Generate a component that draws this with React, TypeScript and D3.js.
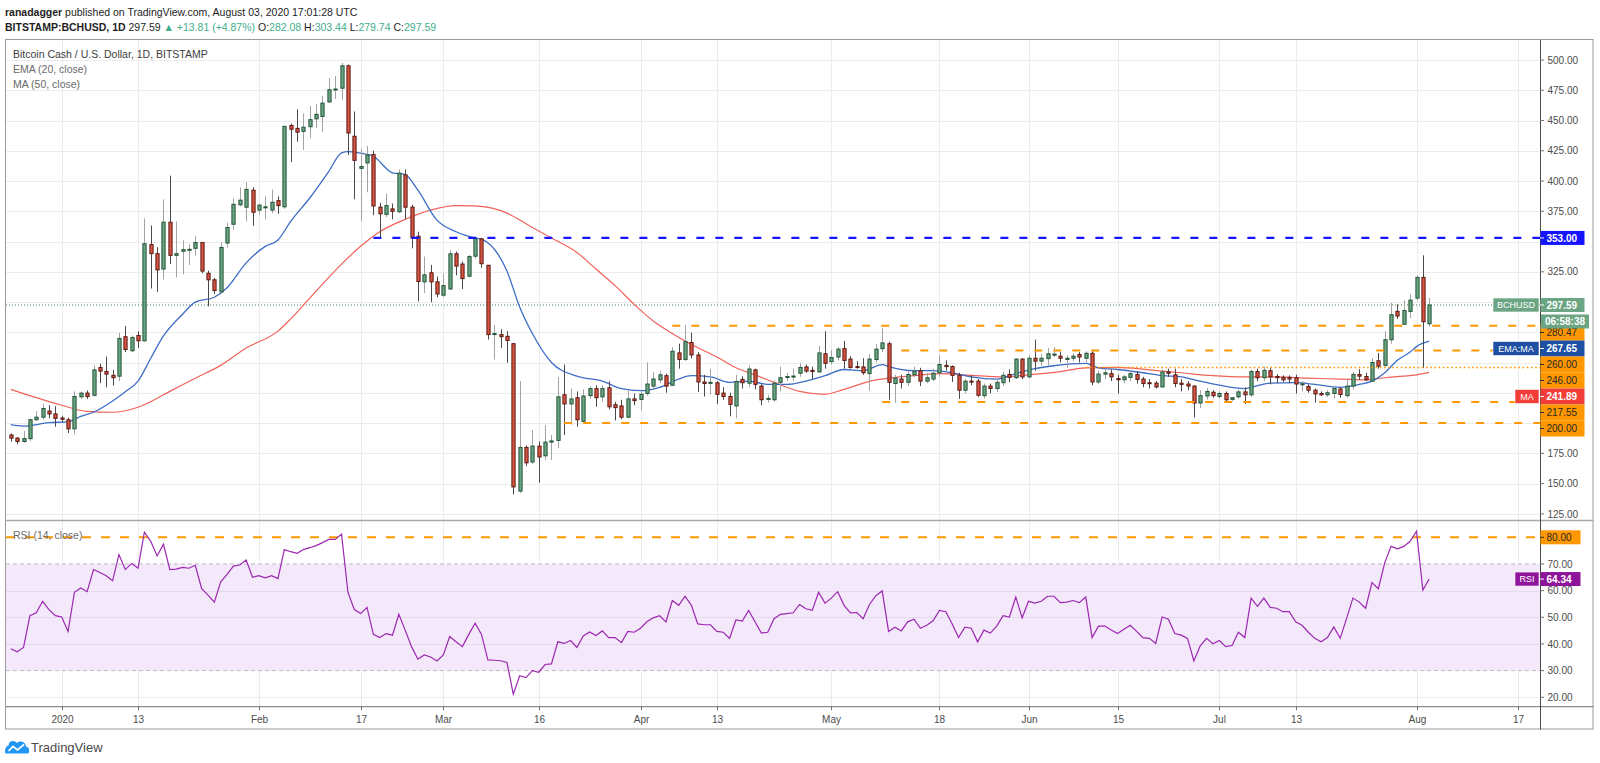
import React, { useEffect, useRef } from 'react';
import * as d3 from 'd3';

// one candle per day, starting here
const firstCandle = '2019-12-24';

// daily candles: open, high, low, close (BITSTAMP BCHUSD)
const ohlc: [number, number, number, number][] = [
  // Dec 24 - 31
  [190.2, 191.5, 184.7, 187.6], [187.6, 188.5, 182.6, 184.8], [184.8, 193.6, 184.0, 187.2], [187.2, 203.8, 185.0, 202.8],
  [202.8, 210.0, 202.0, 204.9], [204.9, 216.0, 203.0, 212.1], [210.0, 214.8, 204.0, 207.6], [207.6, 214.0, 197.0, 203.9],
  // Jan
  [204.2, 206.0, 201.0, 203.2], [202.8, 204.6, 191.9, 195.3], [195.3, 226.2, 190.8, 222.0], [221.7, 226.0, 220.0, 224.8],
  [224.8, 227.0, 220.0, 222.0], [223.0, 247.7, 222.0, 244.0], [246.0, 249.0, 233.0, 243.0], [242.6, 255.0, 229.6, 240.5],
  [239.5, 244.0, 231.0, 237.5], [238.8, 274.5, 234.7, 270.0], [271.4, 280.3, 258.7, 260.8], [259.8, 272.4, 258.7, 270.7],
  [272.4, 275.9, 262.1, 268.0], [268.0, 369.1, 267.3, 348.2], [347.5, 363.3, 311.2, 340.0], [340.0, 345.4, 308.4, 326.6],
  [327.3, 384.9, 318.7, 366.0], [366.0, 404.4, 331.4, 338.6], [338.6, 366.7, 320.4, 340.0], [342.0, 351.0, 322.8, 343.3],
  [343.4, 347.8, 330.7, 343.6], [344.4, 354.7, 338.2, 349.2], [349.2, 349.5, 323.8, 325.6], [323.8, 326.0, 296.4, 318.4],
  [318.4, 320.0, 306.7, 309.5], [308.4, 349.2, 307.4, 345.1], [348.8, 365.7, 345.0, 361.6], [364.3, 385.6, 359.8, 380.8],
  [380.4, 394.7, 379.0, 384.2], [378.4, 399.3, 366.7, 393.1], [392.4, 395.0, 363.0, 374.2],
  // Feb
  [376.0, 381.4, 371.8, 380.1], [378.4, 387.3, 368.4, 378.7], [376.0, 393.1, 373.5, 382.5], [383.8, 387.3, 372.9, 379.7],
  [378.7, 445.5, 377.0, 445.2], [445.9, 447.3, 415.7, 442.8], [443.5, 459.3, 432.5, 440.4], [441.0, 455.8, 425.7, 444.5],
  [444.9, 462.0, 435.3, 450.7], [451.4, 463.4, 443.8, 455.1], [453.4, 470.2, 440.4, 464.4], [465.4, 485.0, 464.4, 475.4],
  [475.4, 486.7, 467.8, 476.0], [476.7, 497.6, 467.1, 495.2], [495.2, 496.3, 421.5, 439.7], [437.0, 457.5, 384.9, 417.1],
  [410.5, 426.7, 366.7, 412.0], [415.0, 429.0, 390.7, 421.5], [421.9, 425.0, 371.8, 379.4], [378.4, 382.1, 353.0, 372.9],
  [372.5, 389.7, 370.1, 379.7], [377.0, 381.4, 368.4, 375.0], [374.6, 409.6, 373.5, 406.5], [405.1, 409.6, 368.4, 378.4],
  [378.4, 380.4, 344.4, 353.0], [354.4, 358.1, 300.5, 317.0], [316.7, 337.6, 307.4, 322.5], [324.2, 330.7, 299.9, 316.7],
  [316.7, 321.0, 304.0, 306.7],
  // Mar
  [305.7, 323.9, 304.0, 313.6], [310.8, 343.0, 310.1, 339.9], [339.9, 341.7, 322.1, 329.7], [331.4, 333.5, 310.8, 319.4],
  [321.4, 338.9, 320.4, 337.6], [337.9, 354.0, 335.8, 352.3], [352.3, 353.0, 328.3, 331.7], [330.4, 330.7, 269.0, 273.1],
  [273.5, 281.0, 252.5, 274.0], [273.1, 277.6, 262.1, 271.4], [271.7, 275.9, 249.8, 268.3], [265.6, 266.3, 141.1, 147.3],
  [143.9, 234.7, 142.2, 179.9], [179.9, 181.6, 164.5, 167.2], [167.9, 194.3, 166.2, 181.0], [181.0, 185.0, 150.7, 172.0],
  [173.0, 198.4, 169.6, 184.3], [184.3, 190.2, 169.6, 185.3], [185.7, 238.1, 179.2, 221.7], [223.4, 248.4, 190.2, 215.9],
  [215.9, 228.6, 198.7, 220.0], [221.0, 226.2, 197.0, 202.8], [201.5, 227.9, 200.4, 222.4], [222.7, 230.6, 220.0, 228.5],
  [228.5, 231.3, 213.5, 221.0], [221.7, 231.3, 217.6, 228.5], [229.2, 234.7, 211.4, 213.5], [215.2, 217.6, 202.2, 212.8],
  [214.2, 219.3, 203.2, 204.9], [204.9, 227.2, 203.9, 220.0], [220.0, 224.5, 214.8, 218.6],
  // Apr
  [219.6, 226.2, 210.7, 223.8], [224.5, 250.1, 222.7, 232.3], [230.6, 242.3, 227.9, 236.4], [235.8, 243.3, 233.0, 239.9],
  [239.2, 240.9, 225.1, 230.6], [231.3, 262.8, 230.6, 259.4], [258.0, 265.6, 245.0, 252.6], [252.6, 281.0, 251.2, 267.3],
  [266.6, 274.8, 253.6, 256.3], [256.3, 258.7, 225.8, 234.0], [234.0, 239.9, 222.0, 232.7], [233.4, 245.0, 223.8, 233.7],
  [233.3, 234.7, 215.9, 223.8], [224.8, 229.6, 219.3, 222.0], [222.0, 225.1, 205.6, 215.5], [214.2, 239.9, 203.9, 234.4],
  [236.1, 238.8, 228.6, 233.4], [233.0, 247.7, 229.6, 244.7], [244.0, 245.0, 227.9, 232.0], [230.6, 232.0, 214.8, 219.3],
  [220.0, 223.4, 216.9, 220.4], [219.3, 235.4, 217.6, 233.0], [233.7, 246.7, 226.2, 237.5], [237.8, 241.6, 234.7, 238.5],
  [238.2, 245.0, 234.7, 238.9], [241.2, 249.4, 238.2, 246.0], [246.4, 248.4, 241.6, 243.0], [243.6, 246.7, 236.4, 242.6],
  [242.3, 263.9, 241.6, 258.0], [257.3, 275.9, 245.0, 249.4],
  // May
  [250.8, 260.4, 248.4, 254.2], [254.6, 262.8, 251.8, 261.1], [261.5, 268.0, 245.0, 251.8], [252.9, 255.3, 245.0, 246.0],
  [246.7, 251.2, 245.0, 246.0], [246.4, 253.6, 240.0, 241.6], [240.9, 257.0, 226.8, 252.9], [252.6, 265.6, 250.1, 261.1],
  [261.5, 278.6, 258.7, 266.3], [265.6, 267.3, 219.3, 233.7], [232.7, 239.9, 216.9, 237.1], [236.4, 239.9, 228.6, 233.7],
  [233.7, 243.3, 230.6, 240.2], [239.9, 246.7, 238.2, 242.9], [243.3, 245.7, 230.6, 234.7], [234.7, 241.6, 233.0, 237.5],
  [236.4, 245.0, 234.7, 241.2], [241.6, 256.0, 238.2, 248.4], [247.7, 251.8, 243.3, 246.7], [246.7, 247.7, 234.0, 239.5],
  [239.5, 241.6, 220.0, 227.2], [227.2, 236.4, 224.5, 234.7], [234.7, 239.5, 231.3, 234.0], [234.7, 236.4, 221.7, 223.0],
  [222.7, 232.7, 220.3, 230.6], [230.6, 232.7, 224.5, 228.6], [228.6, 236.4, 225.8, 233.7], [233.4, 242.3, 230.6, 239.5],
  [240.2, 244.3, 233.7, 237.8], [237.5, 253.6, 236.4, 252.9], [252.9, 253.6, 236.4, 238.2],
  // Jun
  [238.2, 256.0, 237.1, 253.6], [253.6, 269.0, 243.3, 251.2], [251.2, 257.0, 247.4, 253.6], [253.3, 262.1, 247.7, 257.3],
  [256.7, 262.8, 254.6, 257.0], [255.3, 258.7, 250.1, 253.6], [252.6, 256.0, 245.7, 253.6], [253.6, 257.7, 251.2, 255.3],
  [256.7, 258.7, 250.1, 254.6], [253.6, 259.4, 250.1, 257.7], [257.7, 259.4, 231.3, 234.0], [234.0, 243.3, 232.0, 240.5],
  [240.5, 244.3, 236.4, 241.6], [240.9, 244.3, 234.7, 238.2], [236.8, 239.9, 224.5, 235.8], [235.8, 239.9, 233.0, 238.2],
  [237.8, 244.0, 234.7, 240.9], [240.2, 243.0, 232.7, 236.1], [236.4, 238.2, 229.6, 232.7], [233.4, 236.4, 228.6, 233.0],
  [233.0, 234.7, 228.6, 229.9], [229.9, 244.3, 229.6, 242.3], [242.3, 245.0, 238.2, 241.2], [239.9, 245.0, 229.6, 232.7],
  [233.0, 236.4, 226.2, 232.0], [232.3, 234.7, 227.2, 230.6], [230.6, 231.3, 204.6, 216.6], [216.6, 227.2, 212.4, 222.7],
  [222.4, 228.9, 219.3, 226.2], [225.5, 227.2, 221.0, 222.7],
  // Jul
  [222.0, 226.2, 220.0, 224.5], [224.5, 226.2, 217.6, 219.3], [219.6, 221.7, 218.3, 221.0], [221.7, 227.9, 220.3, 225.8],
  [225.8, 229.6, 215.9, 223.4], [223.4, 244.3, 221.7, 242.6], [242.6, 245.0, 234.7, 237.5], [237.5, 246.7, 234.7, 243.6],
  [243.3, 245.7, 232.0, 238.2], [238.5, 240.5, 233.0, 237.5], [237.8, 239.5, 234.0, 235.8], [237.8, 239.5, 233.0, 236.4],
  [237.5, 239.9, 224.5, 232.3], [232.3, 234.7, 226.2, 232.5], [230.3, 232.0, 225.1, 227.2], [227.2, 228.6, 216.9, 224.1],
  [224.5, 226.2, 222.4, 223.4], [223.4, 227.2, 221.7, 225.1], [224.5, 229.6, 220.3, 228.6], [228.2, 229.6, 221.0, 223.7],
  [222.7, 237.1, 221.0, 230.6], [230.6, 242.3, 227.9, 240.2], [240.2, 244.6, 235.8, 238.8], [238.5, 241.6, 234.7, 235.8],
  [234.7, 253.6, 234.0, 250.1], [251.5, 258.0, 245.0, 247.0], [247.7, 275.9, 246.7, 268.9], [268.9, 299.2, 265.6, 289.6],
  [292.3, 298.2, 286.1, 288.5], [281.7, 301.6, 281.0, 293.0], [292.3, 306.7, 286.8, 301.6],
  // Aug 1 - 3
  [303.3, 322.1, 301.6, 320.4], [320.4, 338.6, 245.7, 283.78], [282.08, 303.44, 279.74, 297.59],
];

// RSI(14, close), one value per candle
const rsi14: number[] = [
  38.2, 37.1, 38.7, 50.6, 51.7, 56.0, 52.9, 50.6,
  50.1, 44.7, 59.4, 61.0, 59.6, 67.9, 66.8, 65.6, 63.7, 73.5, 67.9, 70.2, 68.4, 81.9, 78.5, 73.0,
  77.4, 67.9, 68.1, 68.7, 68.4, 69.5, 60.7, 58.3, 55.7, 63.3, 66.1, 69.2, 69.6, 71.5, 65.0,
  65.6, 64.8, 65.6, 64.5, 75.4, 74.6, 74.0, 75.4, 76.1, 76.9, 78.0, 79.2, 79.2, 81.2, 59.4, 52.9,
  51.4, 53.7, 43.6, 42.4, 43.9, 43.3, 51.1, 45.2, 39.0, 34.3, 35.9, 35.1, 33.6,
  35.9, 42.8, 40.8, 39.0, 43.6, 47.8, 43.6, 34.0, 33.9, 33.7, 33.1, 21.2, 28.1, 27.4, 30.0, 29.4,
  32.3, 32.5, 40.8, 40.2, 41.3, 38.7, 43.0, 44.5, 43.2, 44.9, 42.4, 42.4, 40.5, 44.7, 44.4,
  45.9, 48.3, 49.8, 50.6, 48.3, 56.3, 54.5, 57.9, 54.5, 47.5, 47.2, 47.2, 44.7, 44.4, 42.1,
  49.0, 48.6, 52.6, 48.3, 44.1, 44.4, 49.5, 51.1, 51.4, 51.7, 54.8, 53.2, 52.6, 59.4, 55.3,
  57.2, 59.6, 54.5, 51.7, 51.8, 49.5, 54.8, 58.1, 59.9, 44.7, 46.3, 44.9, 48.3, 49.3, 45.9, 47.0,
  48.7, 52.6, 52.1, 47.5, 42.4, 46.3, 45.9, 40.8, 45.2, 44.1, 46.7, 50.6, 50.1, 57.6, 49.8,
  56.0, 55.3, 56.0, 57.9, 57.9, 55.5, 55.7, 56.3, 55.5, 57.6, 42.4, 46.7, 46.7, 45.2, 43.9,
  45.5, 47.0, 44.7, 42.4, 42.1, 40.2, 50.1, 49.3, 43.9, 43.3, 42.1, 33.6, 39.3, 42.1, 40.1,
  41.3, 39.0, 39.4, 44.4, 42.4, 57.2, 54.1, 57.2, 53.7, 53.4, 52.1, 52.1, 48.3, 47.0, 44.4, 42.1,
  40.8, 42.4, 46.4, 42.1, 49.5, 57.2, 55.7, 53.4, 63.0, 60.7, 70.4, 76.6, 75.7, 76.6, 78.5,
  82.3, 60.2, 64.34,
];

// EMA(20, close)
const emaPoints: [string, number][] = [
  ['2019-12-24', 198.7], ['2019-12-26', 197.5], ['2019-12-30', 200.4], ['2020-01-02', 201.1], ['2020-01-04', 205.6],
  ['2020-01-06', 209.0], ['2020-01-09', 218.3], ['2020-01-11', 226.0], ['2020-01-13', 234.7], ['2020-01-15', 253.6],
  ['2020-01-17', 272.0], ['2020-01-20', 290.0], ['2020-01-22', 299.9], ['2020-01-25', 304.0], ['2020-01-27', 311.9],
  ['2020-01-30', 332.4], ['2020-02-02', 346.0], ['2020-02-04', 351.3], ['2020-02-06', 366.7], ['2020-02-09', 386.0],
  ['2020-02-12', 408.0], ['2020-02-14', 423.3], ['2020-02-15', 424.3], ['2020-02-17', 423.0], ['2020-02-19', 420.5],
  ['2020-02-22', 406.8], ['2020-02-24', 405.4], ['2020-02-26', 392.4], ['2020-02-29', 367.7], ['2020-03-03', 358.1],
  ['2020-03-06', 353.0], ['2020-03-07', 352.0], ['2020-03-11', 325.6], ['2020-03-13', 296.0], ['2020-03-15', 274.0],
  ['2020-03-18', 250.1], ['2020-03-22', 238.8], ['2020-03-26', 234.7], ['2020-03-29', 228.5], ['2020-04-01', 226.8],
  ['2020-04-04', 229.6], ['2020-04-07', 236.4], ['2020-04-09', 239.2], ['2020-04-12', 238.2], ['2020-04-15', 233.7],
  ['2020-04-18', 234.7], ['2020-04-21', 232.0], ['2020-04-24', 232.0], ['2020-04-27', 234.7], ['2020-04-30', 239.2],
  ['2020-05-03', 244.3], ['2020-05-06', 243.3], ['2020-05-09', 248.4], ['2020-05-10', 246.7], ['2020-05-14', 243.3],
  ['2020-05-17', 243.3], ['2020-05-20', 241.6], ['2020-05-23', 238.2], ['2020-05-27', 236.4], ['2020-05-30', 240.9],
  ['2020-06-02', 245.0], ['2020-06-05', 247.4], ['2020-06-10', 249.4], ['2020-06-12', 245.7], ['2020-06-15', 244.3],
  ['2020-06-19', 241.6], ['2020-06-22', 239.2], ['2020-06-25', 238.2], ['2020-06-28', 234.7], ['2020-07-01', 231.3],
  ['2020-07-05', 228.5], ['2020-07-06', 229.6], ['2020-07-09', 233.0], ['2020-07-13', 233.4], ['2020-07-16', 232.0],
  ['2020-07-20', 229.6], ['2020-07-23', 232.0], ['2020-07-25', 234.7], ['2020-07-27', 241.6], ['2020-07-29', 251.9],
  ['2020-07-31', 258.7], ['2020-08-01', 263.2], ['2020-08-03', 267.65],
];

// MA(50, close)
const maPoints: [string, number][] = [
  ['2019-12-24', 227.9], ['2019-12-27', 222.7], ['2020-01-01', 214.8], ['2020-01-05', 209.7], ['2020-01-09', 209.0],
  ['2020-01-13', 213.1], ['2020-01-18', 226.2], ['2020-01-22', 237.1], ['2020-01-26', 247.7], ['2020-01-30', 262.0],
  ['2020-02-04', 276.0], ['2020-02-06', 286.1], ['2020-02-09', 303.3], ['2020-02-14', 331.4], ['2020-02-17', 346.1],
  ['2020-02-20', 358.1], ['2020-02-24', 368.4], ['2020-02-28', 376.0], ['2020-03-03', 379.7], ['2020-03-06', 379.4],
  ['2020-03-11', 373.5], ['2020-03-15', 361.6], ['2020-03-18', 353.0], ['2020-03-22', 341.0], ['2020-03-25', 327.3],
  ['2020-03-28', 313.6], ['2020-03-31', 298.1], ['2020-04-03', 284.4], ['2020-04-06', 274.1], ['2020-04-09', 264.9],
  ['2020-04-13', 254.6], ['2020-04-16', 245.7], ['2020-04-19', 239.9], ['2020-04-22', 233.7], ['2020-04-26', 226.2],
  ['2020-04-30', 223.8], ['2020-05-03', 227.9], ['2020-05-08', 235.8], ['2020-05-10', 237.1], ['2020-05-14', 239.2],
  ['2020-05-18', 240.9], ['2020-05-23', 239.5], ['2020-05-28', 238.2], ['2020-06-01', 239.9], ['2020-06-06', 242.6],
  ['2020-06-10', 245.7], ['2020-06-15', 246.0], ['2020-06-20', 244.0], ['2020-06-25', 241.6], ['2020-06-30', 239.2],
  ['2020-07-05', 238.2], ['2020-07-10', 238.2], ['2020-07-15', 237.1], ['2020-07-20', 236.4], ['2020-07-24', 235.8],
  ['2020-07-27', 237.5], ['2020-07-30', 238.8], ['2020-08-01', 239.9], ['2020-08-03', 241.89],
];

// time axis labels
const timeTicks: [string, string][] = [
  ['2020-01-01', '2020'], ['2020-01-13', '13'], ['2020-02-01', 'Feb'], ['2020-02-17', '17'],
  ['2020-03-01', 'Mar'], ['2020-03-16', '16'], ['2020-04-01', 'Apr'], ['2020-04-13', '13'],
  ['2020-05-01', 'May'], ['2020-05-18', '18'], ['2020-06-01', 'Jun'], ['2020-06-15', '15'],
  ['2020-07-01', 'Jul'], ['2020-07-13', '13'], ['2020-08-01', 'Aug'], ['2020-08-17', '17'],
];

const priceTicks = [500, 475, 450, 425, 400, 375, 350, 325, 300, 275, 250, 225, 200, 175, 150, 125];
const rsiTicks = [70, 60, 50, 40, 30, 20];

// horizontal levels drawn on the chart
const resistancePrice = 353;
const resistanceFrom = '2020-02-19';
const supportPrices = [280.47, 260.0, 246.0, 217.55, 200.0];
const supportFrom = ['2020-04-06', '2020-05-12', '2020-06-10', '2020-05-09', '2020-03-20'];
const dottedSupport = 246.0;
const rsiOverbought = 80;

const countdown = '06:58:38';
const symbol = 'BCHUSD';

const W = 1600;
const H = 763;
const LEFT = 6;
const AXIS_X = 1540;
const RIGHT = 1593.5;
const TOP = 40;
const SPLIT = 520.5;
const TAXIS = 706.7;
const BOTTOM = 729.5;

const FONT = "'Liberation Sans', Arial, Helvetica, sans-serif";
const UP = '#6ba583';
const UP_BORDER = '#225437';
const DOWN = '#d75442';
const DOWN_BORDER = '#5b1a13';
const ORANGE = '#ff9800';
const BLUE = '#1414ff';
const TEXT = '#4c4c4c';

const App: React.FC = () => {
  const ref = useRef<SVGSVGElement>(null);

  useEffect(() => {
    if (!ref.current) return;
    const svg = d3.select(ref.current);
    svg.selectAll('*').remove();

    const parse = d3.utcParse('%Y-%m-%d');
    const start = parse(firstCandle) as Date;
    const days = ohlc.map((_, i) => d3.utcDay.offset(start, i));

    const x = d3.scaleUtc()
      .domain([parse('2020-01-01') as Date, parse('2020-08-01') as Date])
      .range([61.7, 1416.5]);
    const y = d3.scaleLinear().domain([125, 500]).range([513.9, 60]);
    const yr = d3.scaleLinear().domain([20, 80]).range([697.3, 537.3]);

    const defs = svg.append('defs');
    defs.append('clipPath').attr('id', 'pricePane')
      .append('rect').attr('x', LEFT).attr('y', TOP).attr('width', AXIS_X - LEFT).attr('height', SPLIT - TOP);
    defs.append('clipPath').attr('id', 'rsiPane')
      .append('rect').attr('x', LEFT).attr('y', SPLIT).attr('width', AXIS_X - LEFT).attr('height', TAXIS - SPLIT);

    svg.append('rect').attr('width', W).attr('height', H).attr('fill', '#fff');

    // grid
    const grid = svg.append('g').attr('stroke', '#ececec').attr('stroke-width', 1);
    timeTicks.forEach(([d]) => {
      const xx = Math.round(x(parse(d) as Date)) + 0.5;
      grid.append('line').attr('x1', xx).attr('x2', xx).attr('y1', TOP).attr('y2', TAXIS);
    });
    priceTicks.forEach(p => {
      const yy = Math.round(y(p)) + 0.5;
      grid.append('line').attr('x1', LEFT).attr('x2', AXIS_X).attr('y1', yy).attr('y2', yy);
    });

    // RSI band
    const rsiG = svg.append('g').attr('clip-path', 'url(#rsiPane)');
    rsiG.append('rect')
      .attr('x', LEFT).attr('width', AXIS_X - LEFT)
      .attr('y', yr(70)).attr('height', yr(30) - yr(70))
      .attr('fill', '#f4e8fb');
    [20, 40, 50, 60].forEach(v => {
      const yy = Math.round(yr(v)) + 0.5;
      rsiG.append('line').attr('x1', LEFT).attr('x2', AXIS_X).attr('y1', yy).attr('y2', yy)
        .attr('stroke', 'rgba(120,120,140,0.13)');
    });
    [70, 30].forEach(v => {
      rsiG.append('line').attr('x1', LEFT).attr('x2', AXIS_X).attr('y1', yr(v)).attr('y2', yr(v))
        .attr('stroke', '#bdbdbd').attr('stroke-dasharray', '4,3');
    });
    rsiG.append('line').attr('x1', LEFT).attr('x2', AXIS_X)
      .attr('y1', yr(rsiOverbought)).attr('y2', yr(rsiOverbought))
      .attr('stroke', ORANGE).attr('stroke-width', 2).attr('stroke-dasharray', '9,10');
    rsiG.append('path')
      .datum(rsi14)
      .attr('d', d3.line<number>().x((_, i) => x(days[i])).y(v => yr(v)))
      .attr('fill', 'none').attr('stroke', '#9c27b0').attr('stroke-width', 1.2);

    // price pane
    const pane = svg.append('g').attr('clip-path', 'url(#pricePane)');
    const lastClose = ohlc[ohlc.length - 1][3];

    pane.append('line').attr('x1', LEFT).attr('x2', AXIS_X)
      .attr('y1', y(lastClose)).attr('y2', y(lastClose))
      .attr('stroke', '#3e7d58').attr('stroke-width', 1).attr('stroke-dasharray', '1,2');

    const avgLine = d3.line<[string, number]>()
      .x(d => x(parse(d[0]) as Date)).y(d => y(d[1]))
      .curve(d3.curveMonotoneX);
    pane.append('path').datum(maPoints).attr('d', avgLine)
      .attr('fill', 'none').attr('stroke', '#f0625a').attr('stroke-width', 1.2);
    pane.append('path').datum(emaPoints).attr('d', avgLine)
      .attr('fill', 'none').attr('stroke', '#3e6dc6').attr('stroke-width', 1.3);

    // candles
    const candles = pane.append('g');
    ohlc.forEach(([o, h, l, c], i) => {
      const cx = Math.round(x(days[i])) + 0.5;
      const up = c >= o;
      candles.append('line').attr('x1', cx).attr('x2', cx).attr('y1', y(h)).attr('y2', y(l))
        .attr('stroke', up ? '#a3a3a3' : '#4a4a4a').attr('stroke-width', 1);
      const top = y(Math.max(o, c));
      const hgt = Math.max(1, Math.abs(y(o) - y(c)));
      candles.append('rect')
        .attr('x', cx - 1.6).attr('width', 3.2)
        .attr('y', top).attr('height', hgt)
        .attr('fill', up ? UP : DOWN)
        .attr('stroke', up ? UP_BORDER : DOWN_BORDER).attr('stroke-width', 1);
    });

    // horizontal levels
    pane.append('line')
      .attr('x1', x(parse(resistanceFrom) as Date)).attr('x2', AXIS_X)
      .attr('y1', y(resistancePrice)).attr('y2', y(resistancePrice))
      .attr('stroke', BLUE).attr('stroke-width', 2.2).attr('stroke-dasharray', '8,11');
    supportPrices.forEach((p, i) => {
      const dotted = p === dottedSupport;
      pane.append('line')
        .attr('x1', x(parse(supportFrom[i]) as Date)).attr('x2', AXIS_X)
        .attr('y1', y(p)).attr('y2', y(p))
        .attr('stroke', ORANGE)
        .attr('stroke-width', dotted ? 1.6 : 2)
        .attr('stroke-dasharray', dotted ? '1.6,2.6' : '8,11');
    });

    // frame
    const frame = svg.append('g').attr('fill', 'none');
    frame.append('rect').attr('x', LEFT - 0.5).attr('y', TOP - 0.5)
      .attr('width', RIGHT - LEFT).attr('height', BOTTOM - TOP)
      .attr('stroke', '#9a9a9a');
    frame.append('line').attr('x1', LEFT).attr('x2', RIGHT).attr('y1', SPLIT).attr('y2', SPLIT)
      .attr('stroke', '#a8a8a8').attr('stroke-width', 1.5);
    frame.append('line').attr('x1', LEFT).attr('x2', RIGHT).attr('y1', TAXIS).attr('y2', TAXIS)
      .attr('stroke', '#707070');
    frame.append('line').attr('x1', AXIS_X + 0.5).attr('x2', AXIS_X + 0.5).attr('y1', TOP).attr('y2', BOTTOM)
      .attr('stroke', '#4a4a4a');

    // time axis
    const tAxis = svg.append('g').attr('font-family', FONT).attr('font-size', 10).attr('fill', TEXT);
    timeTicks.forEach(([d, label]) => {
      const xx = Math.round(x(parse(d) as Date)) + 0.5;
      tAxis.append('line').attr('x1', xx).attr('x2', xx).attr('y1', TAXIS).attr('y2', TAXIS + 3.5)
        .attr('stroke', '#707070');
      tAxis.append('text').attr('x', xx).attr('y', 722.8).attr('text-anchor', 'middle').text(label);
    });

    // price labels on the right: stacked boxes
    const labels = svg.append('g').attr('font-family', FONT).attr('font-size', 10);
    const box = (yy: number, txt: string, fill: string, color: string, h = 14, w = 44, bold = true) => {
      labels.append('rect').attr('x', AXIS_X + 0.5).attr('y', yy - h / 2).attr('width', w).attr('height', h).attr('fill', fill);
      labels.append('line').attr('x1', AXIS_X).attr('x2', AXIS_X + 4).attr('y1', yy).attr('y2', yy)
        .attr('stroke', color).attr('stroke-width', 1);
      labels.append('text').attr('x', AXIS_X + 6.5).attr('y', yy + 3.6)
        .attr('fill', color).attr('font-weight', bold ? 'bold' : 'normal').text(txt);
    };
    const tag = (yy: number, txt: string, fill: string, w: number, h = 14) => {
      labels.append('rect').attr('x', AXIS_X - w).attr('y', yy - h / 2).attr('width', w - 1).attr('height', h)
        .attr('fill', fill).attr('stroke', 'rgba(255,255,255,0.6)');
      labels.append('text').attr('x', AXIS_X - w / 2 - 0.5).attr('y', yy + 3.3)
        .attr('text-anchor', 'middle').attr('font-size', 9).attr('fill', '#fff').text(txt);
    };

    const emaLast = emaPoints[emaPoints.length - 1][1];
    const maLast = maPoints[maPoints.length - 1][1];
    type Row = { value: number; fill: string; color: string; tagText?: string; tagW?: number; y?: number };
    const rows: Row[] = [
      ...supportPrices.map(p => ({ value: p, fill: ORANGE, color: '#262626' })),
      { value: emaLast, fill: '#1d4fa3', color: '#fff', tagText: 'EMA:MA', tagW: 47 },
      { value: maLast, fill: '#f23d38', color: '#fff', tagText: 'MA', tagW: 25 },
    ].sort((a, b) => b.value - a.value);

    const yClose = y(lastClose);
    let minY = yClose + 27.5;
    rows.forEach(r => {
      r.y = Math.max(y(r.value), minY);
      minY = r.y + 16;
    });

    const boxYs = [y(resistancePrice), yClose, yClose + 16.5, ...rows.map(r => r.y as number)];
    priceTicks.forEach(p => {
      const yy = y(p);
      if (boxYs.some(b => Math.abs(b - yy) < 13)) return;
      labels.append('line').attr('x1', AXIS_X).attr('x2', AXIS_X + 4).attr('y1', yy).attr('y2', yy).attr('stroke', '#707070');
      labels.append('text').attr('x', AXIS_X + 7.5).attr('y', yy + 3.6).attr('fill', TEXT).text(p.toFixed(2));
    });

    rows.forEach(r => {
      const orange = r.fill === ORANGE;
      box(r.y as number, r.value.toFixed(2), r.fill, r.color, 16, 44, !orange);
    });
    rows.forEach(r => {
      if (r.tagText) tag(r.y as number, r.tagText, r.fill, r.tagW as number);
    });

    // countdown box sits under the last price box, above the stacked labels
    labels.append('rect').attr('x', AXIS_X + 1).attr('y', yClose + 9.5).attr('width', 48).attr('height', 14).attr('fill', UP);
    labels.append('text').attr('x', AXIS_X + 5).attr('y', yClose + 20).attr('fill', '#fff').attr('font-weight', 'bold').text(countdown);

    box(y(resistancePrice), resistancePrice.toFixed(2), BLUE, '#fff');
    box(yClose, lastClose.toFixed(2), UP, '#fff');
    tag(yClose, symbol, UP, 47);

    // RSI axis
    const rsiLast = rsi14[rsi14.length - 1];
    rsiTicks.forEach(v => {
      const yy = yr(v);
      if (Math.abs(yy - yr(rsiLast)) < 11) return;
      labels.append('line').attr('x1', AXIS_X).attr('x2', AXIS_X + 4).attr('y1', yy).attr('y2', yy).attr('stroke', '#707070');
      labels.append('text').attr('x', AXIS_X + 7.5).attr('y', yy + 3.6).attr('fill', TEXT).text(v.toFixed(2));
    });
    box(yr(rsiOverbought), rsiOverbought.toFixed(2), ORANGE, '#262626', 14, 40, false);
    box(yr(rsiLast), rsiLast.toFixed(2), '#8e1599', '#fff', 14, 40);
    tag(yr(rsiLast), 'RSI', '#8e1599', 25);

    // pane legends
    const legend = svg.append('g').attr('font-family', FONT).attr('font-size', 10.5);
    legend.append('text').attr('x', 13).attr('y', 57.5).attr('fill', '#3d3d3d').text('Bitcoin Cash / U.S. Dollar, 1D, BITSTAMP');
    legend.append('text').attr('x', 13).attr('y', 73).attr('fill', '#6a6a6a').text('EMA (20, close)');
    legend.append('text').attr('x', 13).attr('y', 87.5).attr('fill', '#6a6a6a').text('MA (50, close)');
    legend.append('text').attr('x', 13).attr('y', 539).attr('fill', '#6a6a6a').text('RSI (14, close)');

    // header
    const prevClose = ohlc[ohlc.length - 2][3];
    const [o, h, l, c] = ohlc[ohlc.length - 1];
    const change = c - prevClose;
    const pct = (change / prevClose) * 100;
    const green = '#3fae8a';
    const head = svg.append('g').attr('font-family', FONT).attr('font-size', 10.5).attr('fill', '#1e1e1e');
    const l1 = head.append('text').attr('x', 5).attr('y', 15.5);
    l1.append('tspan').attr('font-weight', 'bold').text('ranadagger');
    l1.append('tspan').text(' published on TradingView.com, August 03, 2020 17:01:28 UTC');
    const l2 = head.append('text').attr('x', 5).attr('y', 30.5);
    l2.append('tspan').attr('font-weight', 'bold').text(`BITSTAMP:${symbol}, 1D`);
    l2.append('tspan').text(` ${c.toFixed(2)} `);
    l2.append('tspan').attr('fill', green).text(`▲ +${change.toFixed(2)} (+${pct.toFixed(2)}%)`);
    [['O', o], ['H', h], ['L', l], ['C', c]].forEach(([k, v]) => {
      l2.append('tspan').text(` ${k}:`);
      l2.append('tspan').attr('fill', green).text((v as number).toFixed(2));
    });

    // footer logo
    const logo = svg.append('g');
    logo.append('path')
      .attr('d', 'M6,753.5 L27.5,753.5 C30,753.5 30,747 26,746.5 C25.5,742 20,740 17,743 C14.5,739.5 8.5,740.5 8.5,745.5 C5,746 4,753.5 6,753.5 Z')
      .attr('fill', '#2196f3');
    logo.append('polyline').attr('points', '8.5,751 13,746.5 17.5,750 24,744.5')
      .attr('fill', 'none').attr('stroke', '#fff').attr('stroke-width', 1.7);
    logo.append('text').attr('x', 31).attr('y', 751.5).attr('font-family', FONT).attr('font-size', 13)
      .attr('fill', '#4a4a4a').text('TradingView');
  }, []);

  return (
    <div style={{ position: 'absolute', left: 0, top: 0 }}>
      <svg ref={ref} width={W} height={H} style={{ display: 'block' }} />
    </div>
  );
};

export default App;
